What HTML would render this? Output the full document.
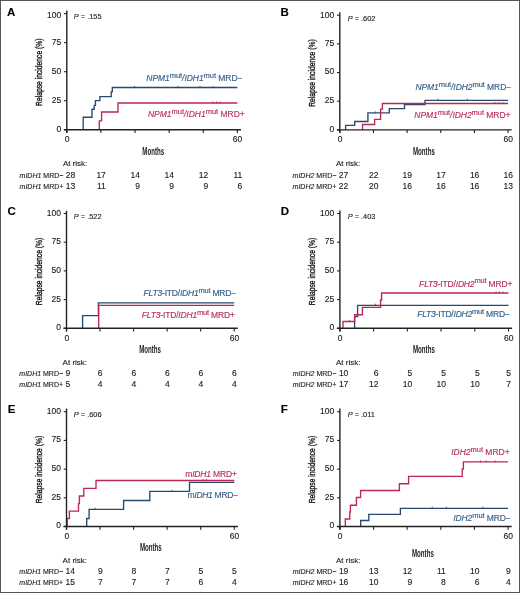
<!DOCTYPE html>
<html><head><meta charset="utf-8"><style>
html,body{margin:0;padding:0;background:#fff;}
body{width:520px;height:593px;overflow:hidden;}
svg{display:block;font-family:"Liberation Sans", sans-serif;will-change:transform;}
</style></head><body>
<svg width="520" height="593" viewBox="0 0 520 593">
<rect x="0" y="0" width="520" height="593" fill="#fff"/>
<text x="6.9" y="16.4" font-size="11.5" text-anchor="start" fill="#000" stroke="#000" stroke-width="0.12" font-weight="bold" font-style="normal" >A</text>
<path d="M83.2 129.8H83.2V117.2H92V109.2H94.2V105.3H95.4V100.6H99.9V96.6H111.2V91.8H112.3V87.5H237.4" fill="none" stroke="#264a70" stroke-width="1.35" stroke-linejoin="miter" stroke-linecap="butt"/>
<line x1="134.5" y1="85.9" x2="134.5" y2="88.1" stroke="#264a70" stroke-width="0.8"/>
<line x1="178" y1="85.9" x2="178" y2="88.1" stroke="#264a70" stroke-width="0.8"/>
<line x1="200" y1="85.9" x2="200" y2="88.1" stroke="#264a70" stroke-width="0.8"/>
<line x1="213" y1="85.9" x2="213" y2="88.1" stroke="#264a70" stroke-width="0.8"/>
<path d="M99.3 129.8H99.3V120.9H101.6V112H118V103H237.4" fill="none" stroke="#bc2652" stroke-width="1.35" stroke-linejoin="miter" stroke-linecap="butt"/>
<line x1="213" y1="101.4" x2="213" y2="103.6" stroke="#bc2652" stroke-width="0.8"/>
<line x1="216.5" y1="101.4" x2="216.5" y2="103.6" stroke="#bc2652" stroke-width="0.8"/>
<line x1="220" y1="101.4" x2="220" y2="103.6" stroke="#bc2652" stroke-width="0.8"/>
<line x1="66.8" y1="10.5" x2="66.8" y2="133" stroke="#222" stroke-width="1.4"/>
<line x1="64" y1="129.8" x2="66.8" y2="129.8" stroke="#222" stroke-width="1.1"/>
<text x="61.2" y="131.7" font-size="8.5" text-anchor="end" fill="#1a1a1a" stroke="#1a1a1a" stroke-width="0.12" font-weight="normal" font-style="normal" >0</text>
<line x1="64" y1="100.75" x2="66.8" y2="100.75" stroke="#222" stroke-width="1.1"/>
<text x="61.2" y="102.65" font-size="8.5" text-anchor="end" fill="#1a1a1a" stroke="#1a1a1a" stroke-width="0.12" font-weight="normal" font-style="normal" >25</text>
<line x1="64" y1="71.7" x2="66.8" y2="71.7" stroke="#222" stroke-width="1.1"/>
<text x="61.2" y="73.6" font-size="8.5" text-anchor="end" fill="#1a1a1a" stroke="#1a1a1a" stroke-width="0.12" font-weight="normal" font-style="normal" >50</text>
<line x1="64" y1="42.65" x2="66.8" y2="42.65" stroke="#222" stroke-width="1.1"/>
<text x="61.2" y="44.55" font-size="8.5" text-anchor="end" fill="#1a1a1a" stroke="#1a1a1a" stroke-width="0.12" font-weight="normal" font-style="normal" >75</text>
<line x1="64" y1="13.6" x2="66.8" y2="13.6" stroke="#222" stroke-width="1.1"/>
<text x="61.2" y="17.6" font-size="8.5" text-anchor="end" fill="#1a1a1a" stroke="#1a1a1a" stroke-width="0.12" font-weight="normal" font-style="normal" >100</text>
<line x1="63.8" y1="129.8" x2="241" y2="129.8" stroke="#222" stroke-width="1.4"/>
<line x1="66.8" y1="129.8" x2="66.8" y2="133" stroke="#222" stroke-width="1.1"/>
<line x1="100.92" y1="129.8" x2="100.92" y2="133" stroke="#222" stroke-width="1.1"/>
<line x1="135.04" y1="129.8" x2="135.04" y2="133" stroke="#222" stroke-width="1.1"/>
<line x1="169.16" y1="129.8" x2="169.16" y2="133" stroke="#222" stroke-width="1.1"/>
<line x1="203.28" y1="129.8" x2="203.28" y2="133" stroke="#222" stroke-width="1.1"/>
<line x1="237.4" y1="129.8" x2="237.4" y2="133" stroke="#222" stroke-width="1.1"/>
<text x="67.1" y="142" font-size="8.5" text-anchor="middle" fill="#1a1a1a" stroke="#1a1a1a" stroke-width="0.12" font-weight="normal" font-style="normal" >0</text>
<text x="237.6" y="142" font-size="8.5" text-anchor="middle" fill="#1a1a1a" stroke="#1a1a1a" stroke-width="0.12" font-weight="normal" font-style="normal" >60</text>
<text x="153.2" y="154.8" font-size="10.2" font-weight="bold" fill="#222" text-anchor="middle" textLength="21.8" lengthAdjust="spacingAndGlyphs">Months</text>
<text transform="translate(42.2,72.2) rotate(-90)" x="0" y="0" font-size="9.2" font-weight="normal" fill="#111" stroke="#111" stroke-width="0.35" text-anchor="middle" textLength="67.5" lengthAdjust="spacingAndGlyphs">Relapse incidence (%)</text>
<text x="73.8" y="19.4" font-size="7.4" fill="#1a1a1a" stroke="#1a1a1a" stroke-width="0.12"><tspan font-style="italic">P</tspan> = .155</text>
<text x="146.3" y="80.9" font-size="8.5" fill="#335f8a" stroke="#335f8a" stroke-width="0.15" text-anchor="start" textLength="96.2" lengthAdjust="spacing"><tspan font-style="italic">NPM1</tspan><tspan font-size="7.5" dy="-3.1">mut</tspan><tspan font-style="italic" dy="3.1">/IDH1</tspan><tspan font-size="7.5" dy="-3.1">mut</tspan><tspan dy="3.1"> MRD−</tspan></text>
<text x="148" y="116.6" font-size="8.5" fill="#b8305c" stroke="#b8305c" stroke-width="0.15" text-anchor="start" textLength="96.75" lengthAdjust="spacing"><tspan font-style="italic">NPM1</tspan><tspan font-size="7.5" dy="-3.1">mut</tspan><tspan font-style="italic" dy="3.1">/IDH1</tspan><tspan font-size="7.5" dy="-3.1">mut</tspan><tspan dy="3.1"> MRD+</tspan></text>
<text x="62.9" y="166.3" font-size="8.0" text-anchor="start" fill="#1a1a1a" stroke="#1a1a1a" stroke-width="0.12" font-weight="normal" font-style="normal" >At risk:</text>
<text x="19.6" y="177.5" font-size="7" fill="#1a1a1a" stroke="#1a1a1a" stroke-width="0.12" text-anchor="start"><tspan font-style="italic">mIDH1</tspan> MRD−</text>
<text x="65.8" y="177.5" font-size="8.5" text-anchor="start" fill="#1a1a1a" stroke="#1a1a1a" stroke-width="0.12" font-weight="normal" font-style="normal" >28</text>
<text x="105.85" y="177.5" font-size="8.5" text-anchor="end" fill="#1a1a1a" stroke="#1a1a1a" stroke-width="0.12" font-weight="normal" font-style="normal" >17</text>
<text x="139.97" y="177.5" font-size="8.5" text-anchor="end" fill="#1a1a1a" stroke="#1a1a1a" stroke-width="0.12" font-weight="normal" font-style="normal" >14</text>
<text x="174.09" y="177.5" font-size="8.5" text-anchor="end" fill="#1a1a1a" stroke="#1a1a1a" stroke-width="0.12" font-weight="normal" font-style="normal" >14</text>
<text x="208.21" y="177.5" font-size="8.5" text-anchor="end" fill="#1a1a1a" stroke="#1a1a1a" stroke-width="0.12" font-weight="normal" font-style="normal" >12</text>
<text x="242.33" y="177.5" font-size="8.5" text-anchor="end" fill="#1a1a1a" stroke="#1a1a1a" stroke-width="0.12" font-weight="normal" font-style="normal" >11</text>
<text x="19.6" y="188.6" font-size="7" fill="#1a1a1a" stroke="#1a1a1a" stroke-width="0.12" text-anchor="start"><tspan font-style="italic">mIDH1</tspan> MRD+</text>
<text x="65.8" y="188.6" font-size="8.5" text-anchor="start" fill="#1a1a1a" stroke="#1a1a1a" stroke-width="0.12" font-weight="normal" font-style="normal" >13</text>
<text x="105.85" y="188.6" font-size="8.5" text-anchor="end" fill="#1a1a1a" stroke="#1a1a1a" stroke-width="0.12" font-weight="normal" font-style="normal" >11</text>
<text x="139.97" y="188.6" font-size="8.5" text-anchor="end" fill="#1a1a1a" stroke="#1a1a1a" stroke-width="0.12" font-weight="normal" font-style="normal" >9</text>
<text x="174.09" y="188.6" font-size="8.5" text-anchor="end" fill="#1a1a1a" stroke="#1a1a1a" stroke-width="0.12" font-weight="normal" font-style="normal" >9</text>
<text x="208.21" y="188.6" font-size="8.5" text-anchor="end" fill="#1a1a1a" stroke="#1a1a1a" stroke-width="0.12" font-weight="normal" font-style="normal" >9</text>
<text x="242.33" y="188.6" font-size="8.5" text-anchor="end" fill="#1a1a1a" stroke="#1a1a1a" stroke-width="0.12" font-weight="normal" font-style="normal" >6</text>
<text x="280.6" y="16.3" font-size="11.5" text-anchor="start" fill="#000" stroke="#000" stroke-width="0.12" font-weight="bold" font-style="normal" >B</text>
<path d="M345.6 129.9H345.6V125.3H354.7V121.5H367.9V112.9H389.3V108.6H404.5V104.5H425V100.3H508.1" fill="none" stroke="#264a70" stroke-width="1.35" stroke-linejoin="miter" stroke-linecap="butt"/>
<line x1="375.2" y1="111.3" x2="375.2" y2="113.5" stroke="#264a70" stroke-width="0.8"/>
<line x1="438" y1="98.7" x2="438" y2="100.9" stroke="#264a70" stroke-width="0.8"/>
<line x1="467.4" y1="98.7" x2="467.4" y2="100.9" stroke="#264a70" stroke-width="0.8"/>
<path d="M362.5 129.9H362.5V124.5H374.6V119.4H380.6V109.1H382.4V103.5H508.1" fill="none" stroke="#bc2652" stroke-width="1.35" stroke-linejoin="miter" stroke-linecap="butt"/>
<line x1="495" y1="101.9" x2="495" y2="104.1" stroke="#bc2652" stroke-width="0.8"/>
<line x1="499" y1="101.9" x2="499" y2="104.1" stroke="#bc2652" stroke-width="0.8"/>
<line x1="503" y1="101.9" x2="503" y2="104.1" stroke="#bc2652" stroke-width="0.8"/>
<line x1="339.8" y1="12.2" x2="339.8" y2="133.1" stroke="#222" stroke-width="1.4"/>
<line x1="337" y1="129.9" x2="339.8" y2="129.9" stroke="#222" stroke-width="1.1"/>
<text x="334.2" y="131.8" font-size="8.5" text-anchor="end" fill="#1a1a1a" stroke="#1a1a1a" stroke-width="0.12" font-weight="normal" font-style="normal" >0</text>
<line x1="337" y1="101.23" x2="339.8" y2="101.23" stroke="#222" stroke-width="1.1"/>
<text x="334.2" y="103.13" font-size="8.5" text-anchor="end" fill="#1a1a1a" stroke="#1a1a1a" stroke-width="0.12" font-weight="normal" font-style="normal" >25</text>
<line x1="337" y1="72.55" x2="339.8" y2="72.55" stroke="#222" stroke-width="1.1"/>
<text x="334.2" y="74.45" font-size="8.5" text-anchor="end" fill="#1a1a1a" stroke="#1a1a1a" stroke-width="0.12" font-weight="normal" font-style="normal" >50</text>
<line x1="337" y1="43.88" x2="339.8" y2="43.88" stroke="#222" stroke-width="1.1"/>
<text x="334.2" y="45.77" font-size="8.5" text-anchor="end" fill="#1a1a1a" stroke="#1a1a1a" stroke-width="0.12" font-weight="normal" font-style="normal" >75</text>
<line x1="337" y1="15.2" x2="339.8" y2="15.2" stroke="#222" stroke-width="1.1"/>
<text x="334.2" y="17.6" font-size="8.5" text-anchor="end" fill="#1a1a1a" stroke="#1a1a1a" stroke-width="0.12" font-weight="normal" font-style="normal" >100</text>
<line x1="336.8" y1="129.9" x2="511.7" y2="129.9" stroke="#222" stroke-width="1.4"/>
<line x1="339.8" y1="129.9" x2="339.8" y2="133.1" stroke="#222" stroke-width="1.1"/>
<line x1="373.46" y1="129.9" x2="373.46" y2="133.1" stroke="#222" stroke-width="1.1"/>
<line x1="407.12" y1="129.9" x2="407.12" y2="133.1" stroke="#222" stroke-width="1.1"/>
<line x1="440.78" y1="129.9" x2="440.78" y2="133.1" stroke="#222" stroke-width="1.1"/>
<line x1="474.44" y1="129.9" x2="474.44" y2="133.1" stroke="#222" stroke-width="1.1"/>
<line x1="508.1" y1="129.9" x2="508.1" y2="133.1" stroke="#222" stroke-width="1.1"/>
<text x="340.1" y="142.1" font-size="8.5" text-anchor="middle" fill="#1a1a1a" stroke="#1a1a1a" stroke-width="0.12" font-weight="normal" font-style="normal" >0</text>
<text x="508.3" y="142.1" font-size="8.5" text-anchor="middle" fill="#1a1a1a" stroke="#1a1a1a" stroke-width="0.12" font-weight="normal" font-style="normal" >60</text>
<text x="423.9" y="154.6" font-size="10.2" font-weight="bold" fill="#222" text-anchor="middle" textLength="21.8" lengthAdjust="spacingAndGlyphs">Months</text>
<text transform="translate(315.2,73.05) rotate(-90)" x="0" y="0" font-size="9.2" font-weight="normal" fill="#111" stroke="#111" stroke-width="0.35" text-anchor="middle" textLength="67.5" lengthAdjust="spacingAndGlyphs">Relapse incidence (%)</text>
<text x="347.7" y="20.5" font-size="7.4" fill="#1a1a1a" stroke="#1a1a1a" stroke-width="0.12"><tspan font-style="italic">P</tspan> = .602</text>
<text x="415.4" y="90.2" font-size="8.5" fill="#335f8a" stroke="#335f8a" stroke-width="0.15" text-anchor="start" textLength="95.8" lengthAdjust="spacing"><tspan font-style="italic">NPM1</tspan><tspan font-size="7.5" dy="-3.1">mut</tspan><tspan font-style="italic" dy="3.1">/IDH2</tspan><tspan font-size="7.5" dy="-3.1">mut</tspan><tspan dy="3.1"> MRD−</tspan></text>
<text x="414.3" y="117.6" font-size="8.5" fill="#b8305c" stroke="#b8305c" stroke-width="0.15" text-anchor="start" textLength="96.2" lengthAdjust="spacing"><tspan font-style="italic">NPM1</tspan><tspan font-size="7.5" dy="-3.1">mut</tspan><tspan font-style="italic" dy="3.1">/IDH2</tspan><tspan font-size="7.5" dy="-3.1">mut</tspan><tspan dy="3.1"> MRD+</tspan></text>
<text x="335.9" y="166.3" font-size="8.0" text-anchor="start" fill="#1a1a1a" stroke="#1a1a1a" stroke-width="0.12" font-weight="normal" font-style="normal" >At risk:</text>
<text x="292.6" y="177.5" font-size="7" fill="#1a1a1a" stroke="#1a1a1a" stroke-width="0.12" text-anchor="start"><tspan font-style="italic">mIDH2</tspan> MRD−</text>
<text x="338.8" y="177.5" font-size="8.5" text-anchor="start" fill="#1a1a1a" stroke="#1a1a1a" stroke-width="0.12" font-weight="normal" font-style="normal" >27</text>
<text x="378.39" y="177.5" font-size="8.5" text-anchor="end" fill="#1a1a1a" stroke="#1a1a1a" stroke-width="0.12" font-weight="normal" font-style="normal" >22</text>
<text x="412.05" y="177.5" font-size="8.5" text-anchor="end" fill="#1a1a1a" stroke="#1a1a1a" stroke-width="0.12" font-weight="normal" font-style="normal" >19</text>
<text x="445.71" y="177.5" font-size="8.5" text-anchor="end" fill="#1a1a1a" stroke="#1a1a1a" stroke-width="0.12" font-weight="normal" font-style="normal" >17</text>
<text x="479.37" y="177.5" font-size="8.5" text-anchor="end" fill="#1a1a1a" stroke="#1a1a1a" stroke-width="0.12" font-weight="normal" font-style="normal" >16</text>
<text x="513.03" y="177.5" font-size="8.5" text-anchor="end" fill="#1a1a1a" stroke="#1a1a1a" stroke-width="0.12" font-weight="normal" font-style="normal" >16</text>
<text x="292.6" y="188.6" font-size="7" fill="#1a1a1a" stroke="#1a1a1a" stroke-width="0.12" text-anchor="start"><tspan font-style="italic">mIDH2</tspan> MRD+</text>
<text x="338.8" y="188.6" font-size="8.5" text-anchor="start" fill="#1a1a1a" stroke="#1a1a1a" stroke-width="0.12" font-weight="normal" font-style="normal" >22</text>
<text x="378.39" y="188.6" font-size="8.5" text-anchor="end" fill="#1a1a1a" stroke="#1a1a1a" stroke-width="0.12" font-weight="normal" font-style="normal" >20</text>
<text x="412.05" y="188.6" font-size="8.5" text-anchor="end" fill="#1a1a1a" stroke="#1a1a1a" stroke-width="0.12" font-weight="normal" font-style="normal" >16</text>
<text x="445.71" y="188.6" font-size="8.5" text-anchor="end" fill="#1a1a1a" stroke="#1a1a1a" stroke-width="0.12" font-weight="normal" font-style="normal" >16</text>
<text x="479.37" y="188.6" font-size="8.5" text-anchor="end" fill="#1a1a1a" stroke="#1a1a1a" stroke-width="0.12" font-weight="normal" font-style="normal" >16</text>
<text x="513.03" y="188.6" font-size="8.5" text-anchor="end" fill="#1a1a1a" stroke="#1a1a1a" stroke-width="0.12" font-weight="normal" font-style="normal" >13</text>
<text x="7.4" y="215" font-size="11.5" text-anchor="start" fill="#000" stroke="#000" stroke-width="0.12" font-weight="bold" font-style="normal" >C</text>
<path d="M82.6 328.3H82.6V315.6H98.4V302.8H234.2" fill="none" stroke="#264a70" stroke-width="1.35" stroke-linejoin="miter" stroke-linecap="butt"/>
<path d="M98.7 328.3H98.7V305.4H234.2" fill="none" stroke="#bc2652" stroke-width="1.35" stroke-linejoin="miter" stroke-linecap="butt"/>
<line x1="66.5" y1="210.8" x2="66.5" y2="331.5" stroke="#222" stroke-width="1.4"/>
<line x1="63.7" y1="328.3" x2="66.5" y2="328.3" stroke="#222" stroke-width="1.1"/>
<text x="60.9" y="330.2" font-size="8.5" text-anchor="end" fill="#1a1a1a" stroke="#1a1a1a" stroke-width="0.12" font-weight="normal" font-style="normal" >0</text>
<line x1="63.7" y1="299.6" x2="66.5" y2="299.6" stroke="#222" stroke-width="1.1"/>
<text x="60.9" y="301.5" font-size="8.5" text-anchor="end" fill="#1a1a1a" stroke="#1a1a1a" stroke-width="0.12" font-weight="normal" font-style="normal" >25</text>
<line x1="63.7" y1="270.9" x2="66.5" y2="270.9" stroke="#222" stroke-width="1.1"/>
<text x="60.9" y="272.8" font-size="8.5" text-anchor="end" fill="#1a1a1a" stroke="#1a1a1a" stroke-width="0.12" font-weight="normal" font-style="normal" >50</text>
<line x1="63.7" y1="242.2" x2="66.5" y2="242.2" stroke="#222" stroke-width="1.1"/>
<text x="60.9" y="244.1" font-size="8.5" text-anchor="end" fill="#1a1a1a" stroke="#1a1a1a" stroke-width="0.12" font-weight="normal" font-style="normal" >75</text>
<line x1="63.7" y1="213.5" x2="66.5" y2="213.5" stroke="#222" stroke-width="1.1"/>
<text x="60.9" y="215.7" font-size="8.5" text-anchor="end" fill="#1a1a1a" stroke="#1a1a1a" stroke-width="0.12" font-weight="normal" font-style="normal" >100</text>
<line x1="63.5" y1="328.3" x2="237.8" y2="328.3" stroke="#222" stroke-width="1.4"/>
<line x1="66.5" y1="328.3" x2="66.5" y2="331.5" stroke="#222" stroke-width="1.1"/>
<line x1="100.04" y1="328.3" x2="100.04" y2="331.5" stroke="#222" stroke-width="1.1"/>
<line x1="133.58" y1="328.3" x2="133.58" y2="331.5" stroke="#222" stroke-width="1.1"/>
<line x1="167.12" y1="328.3" x2="167.12" y2="331.5" stroke="#222" stroke-width="1.1"/>
<line x1="200.66" y1="328.3" x2="200.66" y2="331.5" stroke="#222" stroke-width="1.1"/>
<line x1="234.2" y1="328.3" x2="234.2" y2="331.5" stroke="#222" stroke-width="1.1"/>
<text x="66.8" y="340.5" font-size="8.5" text-anchor="middle" fill="#1a1a1a" stroke="#1a1a1a" stroke-width="0.12" font-weight="normal" font-style="normal" >0</text>
<text x="234.4" y="340.5" font-size="8.5" text-anchor="middle" fill="#1a1a1a" stroke="#1a1a1a" stroke-width="0.12" font-weight="normal" font-style="normal" >60</text>
<text x="150.05" y="353" font-size="10.2" font-weight="bold" fill="#222" text-anchor="middle" textLength="21.8" lengthAdjust="spacingAndGlyphs">Months</text>
<text transform="translate(41.9,271.4) rotate(-90)" x="0" y="0" font-size="9.2" font-weight="normal" fill="#111" stroke="#111" stroke-width="0.35" text-anchor="middle" textLength="67.5" lengthAdjust="spacingAndGlyphs">Relapse incidence (%)</text>
<text x="73.8" y="219.4" font-size="7.4" fill="#1a1a1a" stroke="#1a1a1a" stroke-width="0.12"><tspan font-style="italic">P</tspan> = .522</text>
<text x="143.6" y="296.3" font-size="8.5" fill="#335f8a" stroke="#335f8a" stroke-width="0.15" text-anchor="start" textLength="92.6" lengthAdjust="spacing"><tspan font-style="italic">FLT3</tspan><tspan>-ITD/</tspan><tspan font-style="italic">IDH1</tspan><tspan font-size="7.5" dy="-3.1">mut</tspan><tspan dy="3.1"> MRD−</tspan></text>
<text x="141.8" y="317.7" font-size="8.5" fill="#b8305c" stroke="#b8305c" stroke-width="0.15" text-anchor="start" textLength="93.1" lengthAdjust="spacing"><tspan font-style="italic">FLT3</tspan><tspan>-ITD/</tspan><tspan font-style="italic">IDH1</tspan><tspan font-size="7.5" dy="-3.1">mut</tspan><tspan dy="3.1"> MRD+</tspan></text>
<text x="62.6" y="364.6" font-size="8.0" text-anchor="start" fill="#1a1a1a" stroke="#1a1a1a" stroke-width="0.12" font-weight="normal" font-style="normal" >At risk:</text>
<text x="19.3" y="375.8" font-size="7" fill="#1a1a1a" stroke="#1a1a1a" stroke-width="0.12" text-anchor="start"><tspan font-style="italic">mIDH1</tspan> MRD−</text>
<text x="65.5" y="375.8" font-size="8.5" text-anchor="start" fill="#1a1a1a" stroke="#1a1a1a" stroke-width="0.12" font-weight="normal" font-style="normal" >9</text>
<text x="102.6" y="375.8" font-size="8.5" text-anchor="end" fill="#1a1a1a" stroke="#1a1a1a" stroke-width="0.12" font-weight="normal" font-style="normal" >6</text>
<text x="136.14" y="375.8" font-size="8.5" text-anchor="end" fill="#1a1a1a" stroke="#1a1a1a" stroke-width="0.12" font-weight="normal" font-style="normal" >6</text>
<text x="169.68" y="375.8" font-size="8.5" text-anchor="end" fill="#1a1a1a" stroke="#1a1a1a" stroke-width="0.12" font-weight="normal" font-style="normal" >6</text>
<text x="203.22" y="375.8" font-size="8.5" text-anchor="end" fill="#1a1a1a" stroke="#1a1a1a" stroke-width="0.12" font-weight="normal" font-style="normal" >6</text>
<text x="236.76" y="375.8" font-size="8.5" text-anchor="end" fill="#1a1a1a" stroke="#1a1a1a" stroke-width="0.12" font-weight="normal" font-style="normal" >6</text>
<text x="19.3" y="386.9" font-size="7" fill="#1a1a1a" stroke="#1a1a1a" stroke-width="0.12" text-anchor="start"><tspan font-style="italic">mIDH1</tspan> MRD+</text>
<text x="65.5" y="386.9" font-size="8.5" text-anchor="start" fill="#1a1a1a" stroke="#1a1a1a" stroke-width="0.12" font-weight="normal" font-style="normal" >5</text>
<text x="102.6" y="386.9" font-size="8.5" text-anchor="end" fill="#1a1a1a" stroke="#1a1a1a" stroke-width="0.12" font-weight="normal" font-style="normal" >4</text>
<text x="136.14" y="386.9" font-size="8.5" text-anchor="end" fill="#1a1a1a" stroke="#1a1a1a" stroke-width="0.12" font-weight="normal" font-style="normal" >4</text>
<text x="169.68" y="386.9" font-size="8.5" text-anchor="end" fill="#1a1a1a" stroke="#1a1a1a" stroke-width="0.12" font-weight="normal" font-style="normal" >4</text>
<text x="203.22" y="386.9" font-size="8.5" text-anchor="end" fill="#1a1a1a" stroke="#1a1a1a" stroke-width="0.12" font-weight="normal" font-style="normal" >4</text>
<text x="236.76" y="386.9" font-size="8.5" text-anchor="end" fill="#1a1a1a" stroke="#1a1a1a" stroke-width="0.12" font-weight="normal" font-style="normal" >4</text>
<text x="280.8" y="215.2" font-size="11.5" text-anchor="start" fill="#000" stroke="#000" stroke-width="0.12" font-weight="bold" font-style="normal" >D</text>
<path d="M354.6 328.3H354.6V316.6H357.6V305.3H508.5" fill="none" stroke="#264a70" stroke-width="1.35" stroke-linejoin="miter" stroke-linecap="butt"/>
<line x1="375.4" y1="303.7" x2="375.4" y2="305.9" stroke="#264a70" stroke-width="0.8"/>
<path d="M343 328.3H343V321.5H354.6V314.7H362.4V307.4H380.6V300H381.6V293H508.5" fill="none" stroke="#bc2652" stroke-width="1.35" stroke-linejoin="miter" stroke-linecap="butt"/>
<line x1="349.5" y1="319.9" x2="349.5" y2="322.1" stroke="#bc2652" stroke-width="0.8"/>
<line x1="496" y1="291.4" x2="496" y2="293.6" stroke="#bc2652" stroke-width="0.8"/>
<line x1="499.5" y1="291.4" x2="499.5" y2="293.6" stroke="#bc2652" stroke-width="0.8"/>
<line x1="503" y1="291.4" x2="503" y2="293.6" stroke="#bc2652" stroke-width="0.8"/>
<line x1="339.9" y1="210.4" x2="339.9" y2="331.5" stroke="#222" stroke-width="1.4"/>
<line x1="337.1" y1="328.3" x2="339.9" y2="328.3" stroke="#222" stroke-width="1.1"/>
<text x="334.3" y="330.2" font-size="8.5" text-anchor="end" fill="#1a1a1a" stroke="#1a1a1a" stroke-width="0.12" font-weight="normal" font-style="normal" >0</text>
<line x1="337.1" y1="299.6" x2="339.9" y2="299.6" stroke="#222" stroke-width="1.1"/>
<text x="334.3" y="301.5" font-size="8.5" text-anchor="end" fill="#1a1a1a" stroke="#1a1a1a" stroke-width="0.12" font-weight="normal" font-style="normal" >25</text>
<line x1="337.1" y1="270.9" x2="339.9" y2="270.9" stroke="#222" stroke-width="1.1"/>
<text x="334.3" y="272.8" font-size="8.5" text-anchor="end" fill="#1a1a1a" stroke="#1a1a1a" stroke-width="0.12" font-weight="normal" font-style="normal" >50</text>
<line x1="337.1" y1="242.2" x2="339.9" y2="242.2" stroke="#222" stroke-width="1.1"/>
<text x="334.3" y="244.1" font-size="8.5" text-anchor="end" fill="#1a1a1a" stroke="#1a1a1a" stroke-width="0.12" font-weight="normal" font-style="normal" >75</text>
<line x1="337.1" y1="213.5" x2="339.9" y2="213.5" stroke="#222" stroke-width="1.1"/>
<text x="334.3" y="215.7" font-size="8.5" text-anchor="end" fill="#1a1a1a" stroke="#1a1a1a" stroke-width="0.12" font-weight="normal" font-style="normal" >100</text>
<line x1="336.9" y1="328.3" x2="512.1" y2="328.3" stroke="#222" stroke-width="1.4"/>
<line x1="339.9" y1="328.3" x2="339.9" y2="331.5" stroke="#222" stroke-width="1.1"/>
<line x1="373.62" y1="328.3" x2="373.62" y2="331.5" stroke="#222" stroke-width="1.1"/>
<line x1="407.34" y1="328.3" x2="407.34" y2="331.5" stroke="#222" stroke-width="1.1"/>
<line x1="441.06" y1="328.3" x2="441.06" y2="331.5" stroke="#222" stroke-width="1.1"/>
<line x1="474.78" y1="328.3" x2="474.78" y2="331.5" stroke="#222" stroke-width="1.1"/>
<line x1="508.5" y1="328.3" x2="508.5" y2="331.5" stroke="#222" stroke-width="1.1"/>
<text x="340.2" y="340.5" font-size="8.5" text-anchor="middle" fill="#1a1a1a" stroke="#1a1a1a" stroke-width="0.12" font-weight="normal" font-style="normal" >0</text>
<text x="508.7" y="340.5" font-size="8.5" text-anchor="middle" fill="#1a1a1a" stroke="#1a1a1a" stroke-width="0.12" font-weight="normal" font-style="normal" >60</text>
<text x="423.9" y="353" font-size="10.2" font-weight="bold" fill="#222" text-anchor="middle" textLength="21.8" lengthAdjust="spacingAndGlyphs">Months</text>
<text transform="translate(315.3,271.4) rotate(-90)" x="0" y="0" font-size="9.2" font-weight="normal" fill="#111" stroke="#111" stroke-width="0.35" text-anchor="middle" textLength="67.5" lengthAdjust="spacingAndGlyphs">Relapse incidence (%)</text>
<text x="347.7" y="219.4" font-size="7.4" fill="#1a1a1a" stroke="#1a1a1a" stroke-width="0.12"><tspan font-style="italic">P</tspan> = .403</text>
<text x="419.1" y="286.5" font-size="8.5" fill="#b8305c" stroke="#b8305c" stroke-width="0.15" text-anchor="start" textLength="93.3" lengthAdjust="spacing"><tspan font-style="italic">FLT3</tspan><tspan>-ITD/</tspan><tspan font-style="italic">IDH2</tspan><tspan font-size="7.5" dy="-3.1">mut</tspan><tspan dy="3.1"> MRD+</tspan></text>
<text x="417.2" y="316.7" font-size="8.5" fill="#335f8a" stroke="#335f8a" stroke-width="0.15" text-anchor="start" textLength="92.6" lengthAdjust="spacing"><tspan font-style="italic">FLT3</tspan><tspan>-ITD/</tspan><tspan font-style="italic">IDH2</tspan><tspan font-size="7.5" dy="-3.1">mut</tspan><tspan dy="3.1"> MRD−</tspan></text>
<text x="336" y="364.6" font-size="8.0" text-anchor="start" fill="#1a1a1a" stroke="#1a1a1a" stroke-width="0.12" font-weight="normal" font-style="normal" >At risk:</text>
<text x="292.7" y="375.8" font-size="7" fill="#1a1a1a" stroke="#1a1a1a" stroke-width="0.12" text-anchor="start"><tspan font-style="italic">mIDH2</tspan> MRD−</text>
<text x="338.9" y="375.8" font-size="8.5" text-anchor="start" fill="#1a1a1a" stroke="#1a1a1a" stroke-width="0.12" font-weight="normal" font-style="normal" >10</text>
<text x="378.55" y="375.8" font-size="8.5" text-anchor="end" fill="#1a1a1a" stroke="#1a1a1a" stroke-width="0.12" font-weight="normal" font-style="normal" >6</text>
<text x="412.27" y="375.8" font-size="8.5" text-anchor="end" fill="#1a1a1a" stroke="#1a1a1a" stroke-width="0.12" font-weight="normal" font-style="normal" >5</text>
<text x="445.99" y="375.8" font-size="8.5" text-anchor="end" fill="#1a1a1a" stroke="#1a1a1a" stroke-width="0.12" font-weight="normal" font-style="normal" >5</text>
<text x="479.71" y="375.8" font-size="8.5" text-anchor="end" fill="#1a1a1a" stroke="#1a1a1a" stroke-width="0.12" font-weight="normal" font-style="normal" >5</text>
<text x="511.06" y="375.8" font-size="8.5" text-anchor="end" fill="#1a1a1a" stroke="#1a1a1a" stroke-width="0.12" font-weight="normal" font-style="normal" >5</text>
<text x="292.7" y="386.9" font-size="7" fill="#1a1a1a" stroke="#1a1a1a" stroke-width="0.12" text-anchor="start"><tspan font-style="italic">mIDH2</tspan> MRD+</text>
<text x="338.9" y="386.9" font-size="8.5" text-anchor="start" fill="#1a1a1a" stroke="#1a1a1a" stroke-width="0.12" font-weight="normal" font-style="normal" >17</text>
<text x="378.55" y="386.9" font-size="8.5" text-anchor="end" fill="#1a1a1a" stroke="#1a1a1a" stroke-width="0.12" font-weight="normal" font-style="normal" >12</text>
<text x="412.27" y="386.9" font-size="8.5" text-anchor="end" fill="#1a1a1a" stroke="#1a1a1a" stroke-width="0.12" font-weight="normal" font-style="normal" >10</text>
<text x="445.99" y="386.9" font-size="8.5" text-anchor="end" fill="#1a1a1a" stroke="#1a1a1a" stroke-width="0.12" font-weight="normal" font-style="normal" >10</text>
<text x="479.71" y="386.9" font-size="8.5" text-anchor="end" fill="#1a1a1a" stroke="#1a1a1a" stroke-width="0.12" font-weight="normal" font-style="normal" >10</text>
<text x="511.06" y="386.9" font-size="8.5" text-anchor="end" fill="#1a1a1a" stroke="#1a1a1a" stroke-width="0.12" font-weight="normal" font-style="normal" >7</text>
<text x="7.7" y="413.2" font-size="11.5" text-anchor="start" fill="#000" stroke="#000" stroke-width="0.12" font-weight="bold" font-style="normal" >E</text>
<path d="M86.7 526.5H86.7V518.5H89.1V509.4H123.6V500.5H149.8V491.4H189.5V482.4H234.25" fill="none" stroke="#264a70" stroke-width="1.35" stroke-linejoin="miter" stroke-linecap="butt"/>
<line x1="95.1" y1="507.8" x2="95.1" y2="510" stroke="#264a70" stroke-width="0.8"/>
<line x1="172" y1="489.8" x2="172" y2="492" stroke="#264a70" stroke-width="0.8"/>
<path d="M67.2 526.5H67.2V518.5H69.4V511.1H78.5V503.6H79.4V496H83.8V488.3H96V480.5H234.25" fill="none" stroke="#bc2652" stroke-width="1.35" stroke-linejoin="miter" stroke-linecap="butt"/>
<line x1="203" y1="478.9" x2="203" y2="481.1" stroke="#bc2652" stroke-width="0.8"/>
<line x1="206.5" y1="478.9" x2="206.5" y2="481.1" stroke="#bc2652" stroke-width="0.8"/>
<line x1="66.5" y1="408.6" x2="66.5" y2="529.7" stroke="#222" stroke-width="1.4"/>
<line x1="63.7" y1="526.5" x2="66.5" y2="526.5" stroke="#222" stroke-width="1.1"/>
<text x="60.9" y="528.4" font-size="8.5" text-anchor="end" fill="#1a1a1a" stroke="#1a1a1a" stroke-width="0.12" font-weight="normal" font-style="normal" >0</text>
<line x1="63.7" y1="497.81" x2="66.5" y2="497.81" stroke="#222" stroke-width="1.1"/>
<text x="60.9" y="499.71" font-size="8.5" text-anchor="end" fill="#1a1a1a" stroke="#1a1a1a" stroke-width="0.12" font-weight="normal" font-style="normal" >25</text>
<line x1="63.7" y1="469.12" x2="66.5" y2="469.12" stroke="#222" stroke-width="1.1"/>
<text x="60.9" y="471.02" font-size="8.5" text-anchor="end" fill="#1a1a1a" stroke="#1a1a1a" stroke-width="0.12" font-weight="normal" font-style="normal" >50</text>
<line x1="63.7" y1="440.44" x2="66.5" y2="440.44" stroke="#222" stroke-width="1.1"/>
<text x="60.9" y="442.34" font-size="8.5" text-anchor="end" fill="#1a1a1a" stroke="#1a1a1a" stroke-width="0.12" font-weight="normal" font-style="normal" >75</text>
<line x1="63.7" y1="411.75" x2="66.5" y2="411.75" stroke="#222" stroke-width="1.1"/>
<text x="60.9" y="414.1" font-size="8.5" text-anchor="end" fill="#1a1a1a" stroke="#1a1a1a" stroke-width="0.12" font-weight="normal" font-style="normal" >100</text>
<line x1="63.5" y1="526.5" x2="237.85" y2="526.5" stroke="#222" stroke-width="1.4"/>
<line x1="66.5" y1="526.5" x2="66.5" y2="529.7" stroke="#222" stroke-width="1.1"/>
<line x1="100.05" y1="526.5" x2="100.05" y2="529.7" stroke="#222" stroke-width="1.1"/>
<line x1="133.6" y1="526.5" x2="133.6" y2="529.7" stroke="#222" stroke-width="1.1"/>
<line x1="167.15" y1="526.5" x2="167.15" y2="529.7" stroke="#222" stroke-width="1.1"/>
<line x1="200.7" y1="526.5" x2="200.7" y2="529.7" stroke="#222" stroke-width="1.1"/>
<line x1="234.25" y1="526.5" x2="234.25" y2="529.7" stroke="#222" stroke-width="1.1"/>
<text x="66.8" y="538.7" font-size="8.5" text-anchor="middle" fill="#1a1a1a" stroke="#1a1a1a" stroke-width="0.12" font-weight="normal" font-style="normal" >0</text>
<text x="234.45" y="538.7" font-size="8.5" text-anchor="middle" fill="#1a1a1a" stroke="#1a1a1a" stroke-width="0.12" font-weight="normal" font-style="normal" >60</text>
<text x="150.85" y="551.1" font-size="10.2" font-weight="bold" fill="#222" text-anchor="middle" textLength="21.8" lengthAdjust="spacingAndGlyphs">Months</text>
<text transform="translate(41.9,469.62) rotate(-90)" x="0" y="0" font-size="9.2" font-weight="normal" fill="#111" stroke="#111" stroke-width="0.35" text-anchor="middle" textLength="67.5" lengthAdjust="spacingAndGlyphs">Relapse incidence (%)</text>
<text x="73.8" y="417" font-size="7.4" fill="#1a1a1a" stroke="#1a1a1a" stroke-width="0.12"><tspan font-style="italic">P</tspan> = .606</text>
<text x="185.2" y="477.1" font-size="8.5" fill="#b8305c" stroke="#b8305c" stroke-width="0.15" text-anchor="start" textLength="51.7" lengthAdjust="spacing"><tspan>m</tspan><tspan font-style="italic">IDH1</tspan><tspan> MRD+</tspan></text>
<text x="187.5" y="497.5" font-size="8.5" fill="#335f8a" stroke="#335f8a" stroke-width="0.15" text-anchor="start" textLength="50.6" lengthAdjust="spacing"><tspan>m</tspan><tspan font-style="italic">IDH1</tspan><tspan> MRD−</tspan></text>
<text x="62.6" y="562.5" font-size="8.0" text-anchor="start" fill="#1a1a1a" stroke="#1a1a1a" stroke-width="0.12" font-weight="normal" font-style="normal" >At risk:</text>
<text x="19.3" y="573.7" font-size="7" fill="#1a1a1a" stroke="#1a1a1a" stroke-width="0.12" text-anchor="start"><tspan font-style="italic">mIDH1</tspan> MRD−</text>
<text x="65.5" y="573.7" font-size="8.5" text-anchor="start" fill="#1a1a1a" stroke="#1a1a1a" stroke-width="0.12" font-weight="normal" font-style="normal" >14</text>
<text x="102.61" y="573.7" font-size="8.5" text-anchor="end" fill="#1a1a1a" stroke="#1a1a1a" stroke-width="0.12" font-weight="normal" font-style="normal" >9</text>
<text x="136.16" y="573.7" font-size="8.5" text-anchor="end" fill="#1a1a1a" stroke="#1a1a1a" stroke-width="0.12" font-weight="normal" font-style="normal" >8</text>
<text x="169.71" y="573.7" font-size="8.5" text-anchor="end" fill="#1a1a1a" stroke="#1a1a1a" stroke-width="0.12" font-weight="normal" font-style="normal" >7</text>
<text x="203.26" y="573.7" font-size="8.5" text-anchor="end" fill="#1a1a1a" stroke="#1a1a1a" stroke-width="0.12" font-weight="normal" font-style="normal" >5</text>
<text x="236.81" y="573.7" font-size="8.5" text-anchor="end" fill="#1a1a1a" stroke="#1a1a1a" stroke-width="0.12" font-weight="normal" font-style="normal" >5</text>
<text x="19.3" y="584.8" font-size="7" fill="#1a1a1a" stroke="#1a1a1a" stroke-width="0.12" text-anchor="start"><tspan font-style="italic">mIDH1</tspan> MRD+</text>
<text x="65.5" y="584.8" font-size="8.5" text-anchor="start" fill="#1a1a1a" stroke="#1a1a1a" stroke-width="0.12" font-weight="normal" font-style="normal" >15</text>
<text x="102.61" y="584.8" font-size="8.5" text-anchor="end" fill="#1a1a1a" stroke="#1a1a1a" stroke-width="0.12" font-weight="normal" font-style="normal" >7</text>
<text x="136.16" y="584.8" font-size="8.5" text-anchor="end" fill="#1a1a1a" stroke="#1a1a1a" stroke-width="0.12" font-weight="normal" font-style="normal" >7</text>
<text x="169.71" y="584.8" font-size="8.5" text-anchor="end" fill="#1a1a1a" stroke="#1a1a1a" stroke-width="0.12" font-weight="normal" font-style="normal" >7</text>
<text x="203.26" y="584.8" font-size="8.5" text-anchor="end" fill="#1a1a1a" stroke="#1a1a1a" stroke-width="0.12" font-weight="normal" font-style="normal" >6</text>
<text x="236.81" y="584.8" font-size="8.5" text-anchor="end" fill="#1a1a1a" stroke="#1a1a1a" stroke-width="0.12" font-weight="normal" font-style="normal" >4</text>
<text x="280.8" y="413.2" font-size="11.5" text-anchor="start" fill="#000" stroke="#000" stroke-width="0.12" font-weight="bold" font-style="normal" >F</text>
<path d="M360.7 526.5H360.7V520.5H368.8V514.3H400.4V508.3H508.1" fill="none" stroke="#264a70" stroke-width="1.35" stroke-linejoin="miter" stroke-linecap="butt"/>
<line x1="432.2" y1="506.7" x2="432.2" y2="508.9" stroke="#264a70" stroke-width="0.8"/>
<line x1="446.4" y1="506.7" x2="446.4" y2="508.9" stroke="#264a70" stroke-width="0.8"/>
<line x1="482.8" y1="506.7" x2="482.8" y2="508.9" stroke="#264a70" stroke-width="0.8"/>
<path d="M345.3 526.5H345.3V519H349.8V512H350.4V505.2H356.4V497.5H360.6V490.5H399.4V483.7H408.6V476.4H462.2V469.1H463.4V461.9H508.1" fill="none" stroke="#bc2652" stroke-width="1.35" stroke-linejoin="miter" stroke-linecap="butt"/>
<line x1="480.6" y1="460.3" x2="480.6" y2="462.5" stroke="#bc2652" stroke-width="0.8"/>
<line x1="486" y1="460.3" x2="486" y2="462.5" stroke="#bc2652" stroke-width="0.8"/>
<line x1="495" y1="460.3" x2="495" y2="462.5" stroke="#bc2652" stroke-width="0.8"/>
<line x1="339.9" y1="408.5" x2="339.9" y2="529.7" stroke="#222" stroke-width="1.4"/>
<line x1="337.1" y1="526.5" x2="339.9" y2="526.5" stroke="#222" stroke-width="1.1"/>
<text x="334.3" y="528.4" font-size="8.5" text-anchor="end" fill="#1a1a1a" stroke="#1a1a1a" stroke-width="0.12" font-weight="normal" font-style="normal" >0</text>
<line x1="337.1" y1="497.81" x2="339.9" y2="497.81" stroke="#222" stroke-width="1.1"/>
<text x="334.3" y="499.71" font-size="8.5" text-anchor="end" fill="#1a1a1a" stroke="#1a1a1a" stroke-width="0.12" font-weight="normal" font-style="normal" >25</text>
<line x1="337.1" y1="469.12" x2="339.9" y2="469.12" stroke="#222" stroke-width="1.1"/>
<text x="334.3" y="471.02" font-size="8.5" text-anchor="end" fill="#1a1a1a" stroke="#1a1a1a" stroke-width="0.12" font-weight="normal" font-style="normal" >50</text>
<line x1="337.1" y1="440.44" x2="339.9" y2="440.44" stroke="#222" stroke-width="1.1"/>
<text x="334.3" y="442.34" font-size="8.5" text-anchor="end" fill="#1a1a1a" stroke="#1a1a1a" stroke-width="0.12" font-weight="normal" font-style="normal" >75</text>
<line x1="337.1" y1="411.75" x2="339.9" y2="411.75" stroke="#222" stroke-width="1.1"/>
<text x="334.3" y="414.1" font-size="8.5" text-anchor="end" fill="#1a1a1a" stroke="#1a1a1a" stroke-width="0.12" font-weight="normal" font-style="normal" >100</text>
<line x1="336.9" y1="526.5" x2="511.7" y2="526.5" stroke="#222" stroke-width="1.4"/>
<line x1="339.9" y1="526.5" x2="339.9" y2="529.7" stroke="#222" stroke-width="1.1"/>
<line x1="373.54" y1="526.5" x2="373.54" y2="529.7" stroke="#222" stroke-width="1.1"/>
<line x1="407.18" y1="526.5" x2="407.18" y2="529.7" stroke="#222" stroke-width="1.1"/>
<line x1="440.82" y1="526.5" x2="440.82" y2="529.7" stroke="#222" stroke-width="1.1"/>
<line x1="474.46" y1="526.5" x2="474.46" y2="529.7" stroke="#222" stroke-width="1.1"/>
<line x1="508.1" y1="526.5" x2="508.1" y2="529.7" stroke="#222" stroke-width="1.1"/>
<text x="340.2" y="538.7" font-size="8.5" text-anchor="middle" fill="#1a1a1a" stroke="#1a1a1a" stroke-width="0.12" font-weight="normal" font-style="normal" >0</text>
<text x="508.3" y="538.7" font-size="8.5" text-anchor="middle" fill="#1a1a1a" stroke="#1a1a1a" stroke-width="0.12" font-weight="normal" font-style="normal" >60</text>
<text x="422.9" y="556.8" font-size="10.2" font-weight="bold" fill="#222" text-anchor="middle" textLength="21.8" lengthAdjust="spacingAndGlyphs">Months</text>
<text transform="translate(315.3,469.62) rotate(-90)" x="0" y="0" font-size="9.2" font-weight="normal" fill="#111" stroke="#111" stroke-width="0.35" text-anchor="middle" textLength="67.5" lengthAdjust="spacingAndGlyphs">Relapse incidence (%)</text>
<text x="347.7" y="417.4" font-size="7.4" fill="#1a1a1a" stroke="#1a1a1a" stroke-width="0.12"><tspan font-style="italic">P</tspan> = .011</text>
<text x="451.2" y="455.4" font-size="8.5" fill="#b8305c" stroke="#b8305c" stroke-width="0.15" text-anchor="start" textLength="58.4" lengthAdjust="spacing"><tspan font-style="italic">IDH2</tspan><tspan font-size="7.5" dy="-3.1">mut</tspan><tspan dy="3.1"> MRD+</tspan></text>
<text x="453.3" y="520.9" font-size="8.5" fill="#335f8a" stroke="#335f8a" stroke-width="0.15" text-anchor="start" textLength="57.4" lengthAdjust="spacing"><tspan font-style="italic">IDH2</tspan><tspan font-size="7.5" dy="-3.1">mut</tspan><tspan dy="3.1"> MRD−</tspan></text>
<text x="336" y="562.5" font-size="8.0" text-anchor="start" fill="#1a1a1a" stroke="#1a1a1a" stroke-width="0.12" font-weight="normal" font-style="normal" >At risk:</text>
<text x="292.7" y="573.7" font-size="7" fill="#1a1a1a" stroke="#1a1a1a" stroke-width="0.12" text-anchor="start"><tspan font-style="italic">mIDH2</tspan> MRD−</text>
<text x="338.9" y="573.7" font-size="8.5" text-anchor="start" fill="#1a1a1a" stroke="#1a1a1a" stroke-width="0.12" font-weight="normal" font-style="normal" >19</text>
<text x="378.47" y="573.7" font-size="8.5" text-anchor="end" fill="#1a1a1a" stroke="#1a1a1a" stroke-width="0.12" font-weight="normal" font-style="normal" >13</text>
<text x="412.11" y="573.7" font-size="8.5" text-anchor="end" fill="#1a1a1a" stroke="#1a1a1a" stroke-width="0.12" font-weight="normal" font-style="normal" >12</text>
<text x="445.75" y="573.7" font-size="8.5" text-anchor="end" fill="#1a1a1a" stroke="#1a1a1a" stroke-width="0.12" font-weight="normal" font-style="normal" >11</text>
<text x="479.39" y="573.7" font-size="8.5" text-anchor="end" fill="#1a1a1a" stroke="#1a1a1a" stroke-width="0.12" font-weight="normal" font-style="normal" >10</text>
<text x="510.66" y="573.7" font-size="8.5" text-anchor="end" fill="#1a1a1a" stroke="#1a1a1a" stroke-width="0.12" font-weight="normal" font-style="normal" >9</text>
<text x="292.7" y="584.8" font-size="7" fill="#1a1a1a" stroke="#1a1a1a" stroke-width="0.12" text-anchor="start"><tspan font-style="italic">mIDH2</tspan> MRD+</text>
<text x="338.9" y="584.8" font-size="8.5" text-anchor="start" fill="#1a1a1a" stroke="#1a1a1a" stroke-width="0.12" font-weight="normal" font-style="normal" >16</text>
<text x="378.47" y="584.8" font-size="8.5" text-anchor="end" fill="#1a1a1a" stroke="#1a1a1a" stroke-width="0.12" font-weight="normal" font-style="normal" >10</text>
<text x="412.11" y="584.8" font-size="8.5" text-anchor="end" fill="#1a1a1a" stroke="#1a1a1a" stroke-width="0.12" font-weight="normal" font-style="normal" >9</text>
<text x="445.75" y="584.8" font-size="8.5" text-anchor="end" fill="#1a1a1a" stroke="#1a1a1a" stroke-width="0.12" font-weight="normal" font-style="normal" >8</text>
<text x="479.39" y="584.8" font-size="8.5" text-anchor="end" fill="#1a1a1a" stroke="#1a1a1a" stroke-width="0.12" font-weight="normal" font-style="normal" >6</text>
<text x="510.66" y="584.8" font-size="8.5" text-anchor="end" fill="#1a1a1a" stroke="#1a1a1a" stroke-width="0.12" font-weight="normal" font-style="normal" >4</text>
<rect x="0.5" y="0.5" width="519" height="592" fill="none" stroke="#555" stroke-width="1"/>
</svg>
</body></html>
